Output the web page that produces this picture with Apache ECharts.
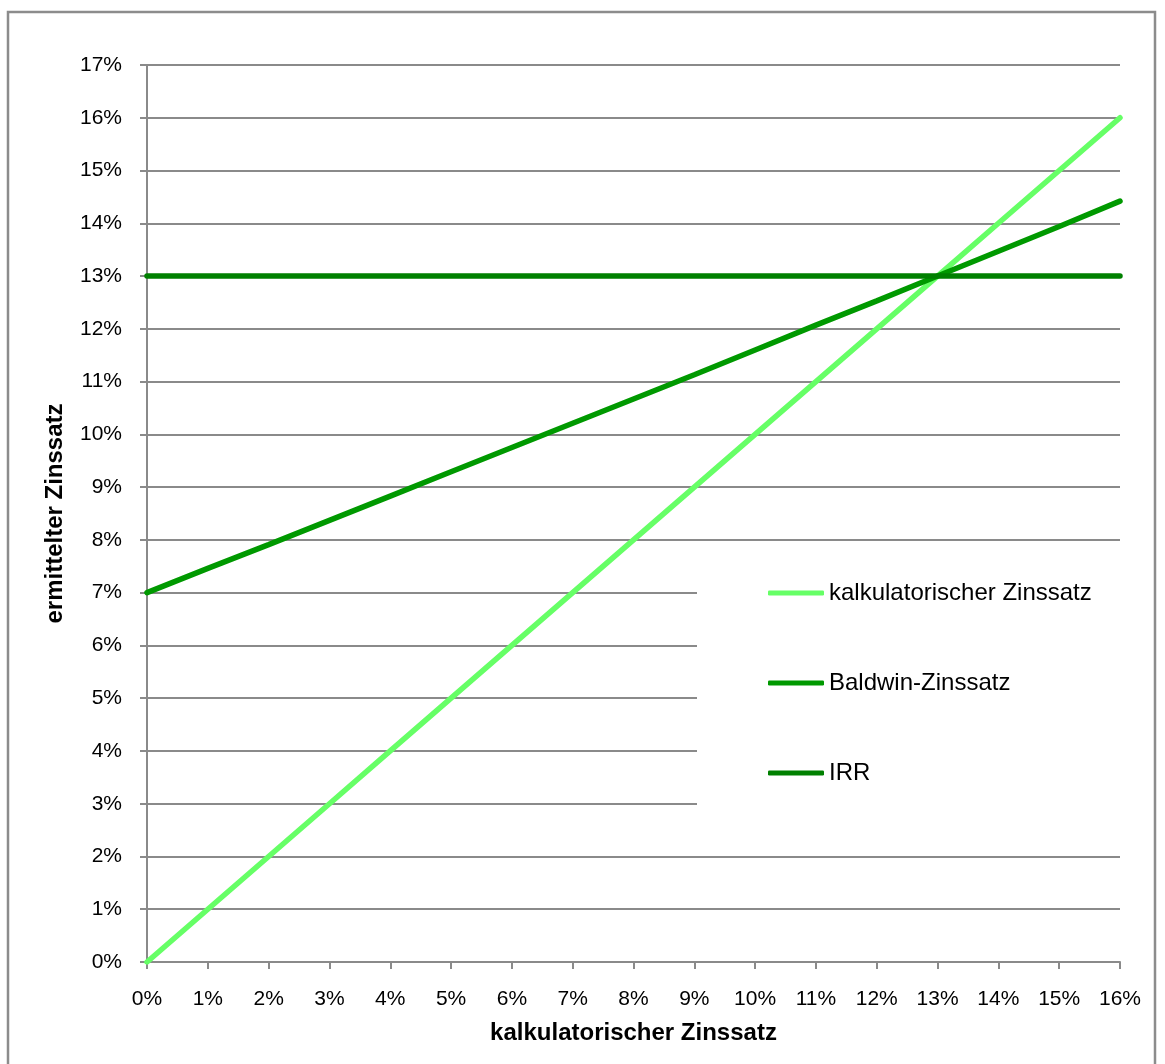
<!DOCTYPE html>
<html>
<head>
<meta charset="utf-8">
<script src="https://cdn.jsdelivr.net/npm/echarts@6/dist/echarts.min.js"></script>
<style>
html,body{margin:0;padding:0;background:#fff;}
#chart{width:1165px;height:1064px;}
</style>
</head>
<body>
<div id="chart"></div>
<script>
// Data (percent units)
const xValues = [0, 1, 2, 3, 4, 5, 6, 7, 8, 9, 10, 11, 12, 13, 14, 15, 16];
const kalkulatorisch = [0, 1, 2, 3, 4, 5, 6, 7, 8, 9, 10, 11, 12, 13, 14, 15, 16];
const baldwin = [7.00, 7.46, 7.91, 8.37, 8.83, 9.29, 9.75, 10.21, 10.67, 11.13, 11.60, 12.07, 12.53, 13.00, 13.47, 13.94, 14.42];
const irr = [13, 13, 13, 13, 13, 13, 13, 13, 13, 13, 13, 13, 13, 13, 13, 13, 13];
const seriesNames = ['kalkulatorischer Zinssatz', 'Baldwin-Zinssatz', 'IRR'];
const xAxisTitle = 'kalkulatorischer Zinssatz';
const yAxisTitle = 'ermittelter Zinssatz';

const FONT = "'Liberation Sans', Arial, sans-serif";
const pairs = arr => xValues.map((x, i) => [x, arr[i]]);

const chart = echarts.init(document.getElementById('chart'), null, {renderer: 'canvas'});
const axisGray = '#8a8a8a';

chart.setOption({
  animation: false,
  backgroundColor: '#ffffff',
  textStyle: {fontFamily: FONT},
  graphic: [{
    type: 'rect', z: -10, silent: true,
    shape: {x: 8, y: 12, width: 1147, height: 1100},
    style: {fill: 'none', stroke: '#8c8c8c', lineWidth: 2.5}
  }],
  grid: {left: 147, right: 45, top: 65, bottom: 102, containLabel: false},
  legend: {
    orient: 'vertical',
    left: 697, top: 560,
    padding: [21, 29, 46, 71],
    itemGap: 66,
    itemWidth: 56, itemHeight: 5,
    icon: 'roundRect',
    backgroundColor: '#ffffff',
    textStyle: {fontFamily: FONT, fontSize: 24, color: '#000'},
    data: seriesNames
  },
  xAxis: {
    type: 'value', min: 0, max: 16, interval: 1,
    name: xAxisTitle, nameLocation: 'middle', nameGap: 59,
    nameTextStyle: {fontFamily: FONT, fontSize: 24, fontWeight: 'bold', color: '#000'},
    axisLine: {show: true, lineStyle: {color: axisGray, width: 2}},
    axisTick: {show: true, inside: false, length: 7, lineStyle: {color: axisGray, width: 2}},
    axisLabel: {formatter: '{value}%', fontFamily: FONT, fontSize: 21, color: '#000', margin: 27},
    splitLine: {show: false}
  },
  yAxis: {
    type: 'value', min: 0, max: 17, interval: 1,
    name: yAxisTitle, nameLocation: 'middle', nameGap: 80, nameRotate: 90,
    nameTextStyle: {fontFamily: FONT, fontSize: 24, fontWeight: 'bold', color: '#000'},
    axisLine: {show: true, lineStyle: {color: axisGray, width: 2}},
    axisTick: {show: true, inside: false, length: 7, lineStyle: {color: axisGray, width: 2}},
    axisLabel: {formatter: '{value}%', fontFamily: FONT, fontSize: 21, color: '#000', margin: 25},
    splitLine: {show: true, lineStyle: {color: axisGray, width: 2}}
  },
  series: [
    {name: seriesNames[0], type: 'line', data: pairs(kalkulatorisch), symbol: 'none',
     lineStyle: {color: '#66ff66', width: 5.5, cap: 'round'}, itemStyle: {color: '#66ff66'}},
    {name: seriesNames[1], type: 'line', data: pairs(baldwin), symbol: 'none',
     lineStyle: {color: '#009900', width: 5.5, cap: 'round'}, itemStyle: {color: '#009900'}},
    {name: seriesNames[2], type: 'line', data: pairs(irr), symbol: 'none',
     lineStyle: {color: '#008000', width: 5.5, cap: 'round'}, itemStyle: {color: '#008000'}}
  ]
});
</script>
</body>
</html>
